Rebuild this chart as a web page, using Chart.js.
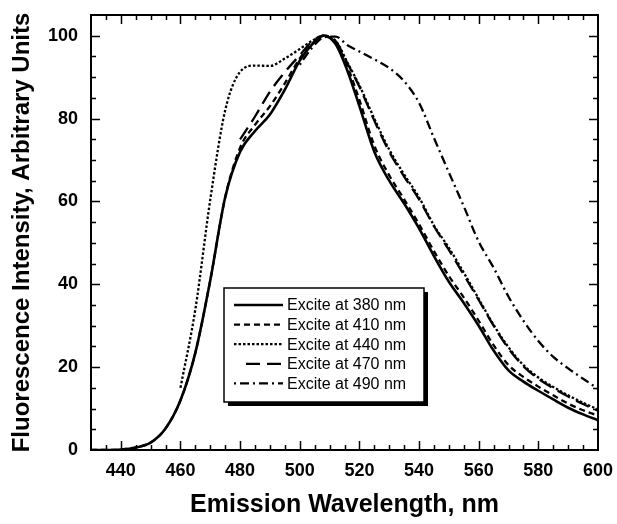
<!DOCTYPE html>
<html>
<head>
<meta charset="utf-8">
<script src="https://cdn.jsdelivr.net/npm/chart.js@4/dist/chart.umd.min.js"></script>
<style>
  html, body { margin: 0; padding: 0; background: #fff; }
  #wrap { width: 617px; height: 524px; position: relative; }
</style>
</head>
<body>
<div id="wrap"><canvas id="mychart"></canvas></div>
<script>
// emission wavelength grid (nm)
var wavelengths = [430,435,440,445,450,455,460,465,470,475,480,485,490,495,500,504,508,512,516,520,525,530,535,540,545,550,555,560,565,570,575,580,585,590,595,600];

// fluorescence, arbitrary units (null = not measured)
var ex380 = [0,0,0.1,0.6,1.8,5.2,12,23.5,41,61,72,77,81,87,94,97.8,100,98,91.5,83,72,65,59.5,53.5,46.8,40.6,35.5,30,24,19.2,16.5,14.3,12.2,10.2,8.6,7.2];
var ex410 = [0,0,0.1,0.6,1.8,5.2,12,23.5,41,61,73,78.5,83,88.5,94.5,98,100,98.3,92.5,84.5,73.5,66.3,60.5,54.5,48,42,36.8,31.2,25.3,20.5,17.6,15.3,13.2,11.2,9.6,8.3];
var ex440 = [null,null,null,null,null,null,15,34,60.5,82,91.3,92.8,92.7,94.5,96.8,98.7,100,98.8,93.5,88,80,72.5,66.5,61,54.2,48.8,42.8,36.5,30.2,24.8,20.5,17.5,15.2,13.2,11.4,9.8];
var ex470 = [null,null,null,null,null,null,null,null,null,null,75,80.5,86.5,91.2,95.3,98.5,100,98.7,93.3,87.7,79.5,72,66,60.5,54,48.3,42.3,36.2,30,24.5,20.2,17.2,14.9,12.9,11.1,9.5];
var ex490 = [null,null,null,null,null,null,null,null,null,null,null,null,null,null,93,97,99.6,99.8,97.7,96.2,94.3,92.2,89,83.8,75.3,67,58.8,50.3,44,37,31.2,26.3,22.5,19.7,17.2,14.8];

var seriesNames = ["Excite at 380 nm","Excite at 410 nm","Excite at 440 nm","Excite at 470 nm","Excite at 490 nm"];
var seriesValues = [ex380, ex410, ex440, ex470, ex490];

// tick labels
var xTicks = [440,460,480,500,520,540,560,580,600];
var yTicks = [0,20,40,60,80,100];

var FONT = "'Liberation Sans', Arial, Helvetica, sans-serif";
var dashes = [[], [6,4], [2.5,2], [14,7], [2,4,9,4]];

function points(vals){
    var out = [];
    for (var i = 0; i < wavelengths.length; i++) {
        if (vals[i] !== null) out.push({x: wavelengths[i], y: vals[i]});
    }
    return out;
}

var datasets = [];
for (var i = 0; i < seriesNames.length; i++) {
    datasets.push({
        label: seriesNames[i],
        data: points(seriesValues[i]),
        borderColor: "#000",
        borderWidth: i == 0 ? 2.6 : 2.3,
        borderDash: dashes[i],
        pointRadius: 0,
        fill: false,
        cubicInterpolationMode: "monotone"
    });
}

// frame, inward ticks and boxed legend
var decor = {
    id: "decor",
    afterDraw: function(chart){
        var ctx = chart.ctx, a = chart.chartArea;
        var sx = chart.scales.x, sy = chart.scales.y;
        ctx.save();
        ctx.strokeStyle = "#000";
        ctx.lineWidth = 1.5;
        ctx.beginPath();
        for (var v = 435; v < 600; v += 5) {
            var px = Math.round(sx.getPixelForValue(v)) + 0.5;
            var len = (v % 20 == 0) ? 9 : 5;
            ctx.moveTo(px, a.bottom); ctx.lineTo(px, a.bottom - len);
            ctx.moveTo(px, a.top); ctx.lineTo(px, a.top + len);
        }
        for (var w = 5; w <= 100; w += 5) {
            var py = Math.round(sy.getPixelForValue(w)) + 0.5;
            var l2 = (w % 20 == 0) ? 9 : 5;
            ctx.moveTo(a.left, py); ctx.lineTo(a.left + l2, py);
            ctx.moveTo(a.right, py); ctx.lineTo(a.right - l2, py);
        }
        ctx.stroke();
        ctx.lineWidth = 2;
        ctx.strokeRect(a.left, a.top, a.right - a.left, a.bottom - a.top);

        // legend box
        var bx = a.left + 133, by = a.top + 273, bw = 200, bh = 114;
        ctx.fillStyle = "#000";
        ctx.fillRect(bx + 4, by + 4, bw, bh);
        ctx.fillStyle = "#fff";
        ctx.fillRect(bx, by, bw, bh);
        ctx.lineWidth = 1.5;
        ctx.strokeRect(bx, by, bw, bh);
        ctx.font = "16px " + FONT;
        ctx.textBaseline = "middle";
        ctx.textAlign = "left";
        for (var k = 0; k < datasets.length; k++) {
            var ly = by + 17 + k * 19.6;
            ctx.beginPath();
            ctx.lineWidth = datasets[k].borderWidth;
            ctx.setLineDash(dashes[k]);
            ctx.moveTo(bx + (k == 3 ? 22 : 10), ly);
            ctx.lineTo(bx + 59, ly);
            ctx.stroke();
            ctx.setLineDash([]);
            ctx.fillStyle = "#000";
            ctx.fillText(seriesNames[k], bx + 63, ly + 1);
        }
        ctx.restore();
    }
};

var chart = new Chart(document.getElementById("mychart").getContext("2d"), {
    type: "line",
    data: { datasets: datasets },
    plugins: [decor],
    options: {
        responsive: true,
        maintainAspectRatio: false,
        animation: false,
        layout: { padding: { top: 15, right: 19, left: 0, bottom: 0 } },
        plugins: { legend: { display: false }, tooltip: { enabled: false } },
        scales: {
            x: {
                type: "linear",
                min: 430, max: 600,
                grid: { display: false, drawTicks: false },
                border: { display: false },
                afterBuildTicks: function(s){ s.ticks = xTicks.map(function(v){ return {value: v}; }); },
                afterFit: function(s){ s.height = 74; s.paddingLeft = 0; s.paddingRight = 0; },
                ticks: { color: "#000", padding: 10, maxRotation: 0, font: { family: FONT, size: 18, weight: "bold" } },
                title: { display: true, text: "Emission Wavelength, nm", color: "#000", padding: { top: 0, bottom: 4 }, font: { family: FONT, size: 25, weight: "bold" } }
            },
            y: {
                min: 0, max: 105,
                grid: { display: false, drawTicks: false },
                border: { display: false },
                afterBuildTicks: function(s){ s.ticks = yTicks.map(function(v){ return {value: v}; }); },
                afterFit: function(s){ s.width = 91; s.paddingTop = 0; s.paddingBottom = 0; },
                ticks: { color: "#000", padding: 13, font: { family: FONT, size: 18, weight: "bold" } },
                title: { display: true, text: "Fluorescence Intensity, Arbitrary Units", color: "#000", padding: { top: 8, bottom: 0 }, font: { family: FONT, size: 24, weight: "bold" } }
            }
        }
    }
});
</script>
</body>
</html>
